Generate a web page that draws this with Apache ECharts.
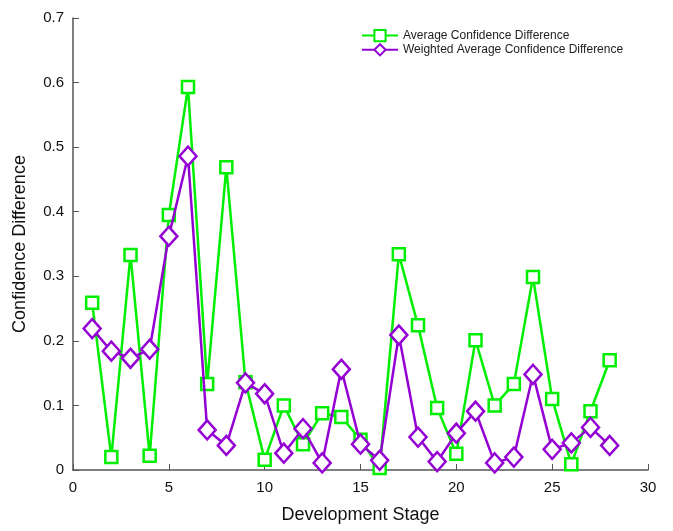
<!DOCTYPE html>
<html>
<head>
<meta charset="utf-8">
<script src="https://cdn.jsdelivr.net/npm/echarts@6/dist/echarts.min.js"></script>
<style>
  html, body { margin: 0; padding: 0; background: #fff; }
  #chart { width: 673px; height: 531px; }
</style>
</head>
<body>
<div id="chart"></div>
<script>
var stages = [1, 2, 3, 4, 5, 6, 7, 8, 9, 10, 11, 12, 13, 14, 15, 16, 17, 18, 19, 20, 21, 22, 23, 24, 25, 26, 27, 28];
var avgDiff = [0.259, 0.020, 0.333, 0.022, 0.395, 0.593, 0.133, 0.469, 0.136, 0.016,
               0.100, 0.040, 0.088, 0.082, 0.047, 0.003, 0.334, 0.224, 0.096, 0.025,
               0.201, 0.100, 0.133, 0.299, 0.110, 0.009, 0.091, 0.170];
var weightedDiff = [0.219, 0.184, 0.173, 0.187, 0.362, 0.486, 0.062, 0.038, 0.135, 0.118,
                    0.026, 0.064, 0.011, 0.156, 0.040, 0.015, 0.209, 0.051, 0.013, 0.057,
                    0.091, 0.011, 0.020, 0.148, 0.032, 0.042, 0.066, 0.038];

var green = '#00ee00';
var purple = '#9400d3';
var font = 'Liberation Sans';

function pairs(vals) {
    return vals.map(function (v, i) { return [stages[i], v]; });
}

var chart = echarts.init(document.getElementById('chart'));
var option = {
    backgroundColor: '#fff',
    animation: false,
    textStyle: { fontFamily: font },
    grid: { left: 73, right: 25, top: 18, bottom: 61 },
    legend: {
        orient: 'vertical',
        left: 356,
        top: 24,
        itemGap: 1,
        itemWidth: 36,
        itemHeight: 14,
        textStyle: { fontFamily: font, fontSize: 12, color: '#222' },
        data: ['Average Confidence Difference', 'Weighted Average Confidence Difference']
    },
    xAxis: {
        type: 'value',
        min: 0, max: 30, interval: 5,
        name: 'Development Stage',
        nameLocation: 'middle',
        nameGap: 36,
        nameTextStyle: { fontFamily: font, fontSize: 18, color: '#111' },
        axisLine: { lineStyle: { color: '#555', width: 1.5 } },
        axisTick: { inside: true, length: 6, lineStyle: { color: '#555' } },
        axisLabel: { fontFamily: font, fontSize: 15, color: '#111', margin: 10 },
        splitLine: { show: false }
    },
    yAxis: {
        type: 'value',
        min: 0, max: 0.7, interval: 0.1,
        name: 'Confidence Difference',
        nameLocation: 'middle',
        nameGap: 44,
        nameTextStyle: { fontFamily: font, fontSize: 18, color: '#111' },
        axisLine: { show: true, lineStyle: { color: '#555', width: 1.5 } },
        axisTick: { show: true, inside: true, length: 6, lineStyle: { color: '#555' } },
        axisLabel: { fontFamily: font, fontSize: 15, color: '#111', margin: 9 },
        splitLine: { show: false }
    },
    series: [
        {
            name: 'Average Confidence Difference',
            type: 'line',
            data: pairs(avgDiff),
            symbol: 'rect',
            symbolSize: 12,
            lineStyle: { color: green, width: 2.5 },
            itemStyle: { color: '#fff', borderColor: green, borderWidth: 2.5 },
            z: 2
        },
        {
            name: 'Weighted Average Confidence Difference',
            type: 'line',
            data: pairs(weightedDiff),
            symbol: 'diamond',
            symbolSize: [17, 19],
            lineStyle: { color: purple, width: 2.5 },
            itemStyle: { color: '#fff', borderColor: purple, borderWidth: 2.5 },
            z: 3
        }
    ]
};
chart.setOption(option);
</script>
</body>
</html>
